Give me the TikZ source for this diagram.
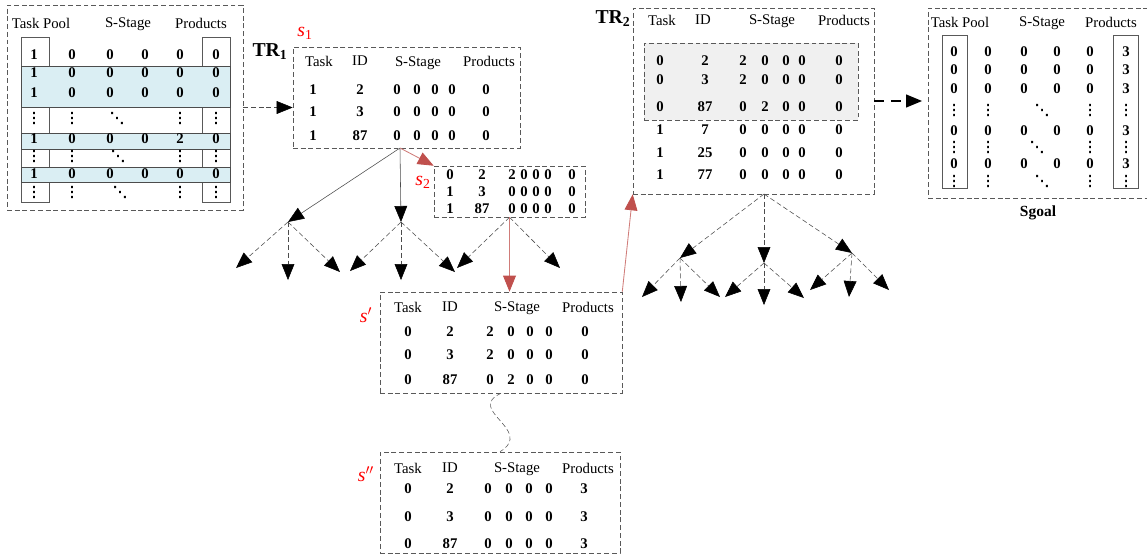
\documentclass[tikz,border=0pt]{standalone}
\usepackage{fontspec}
\setmainfont{Liberation Serif}
\newfontfamily\dotfont[FakeBold=3]{DejaVu Sans}
\usetikzlibrary{arrows.meta,fit}
\definecolor{sred}{RGB}{192,80,77}
\definecolor{bandblue}{RGB}{218,238,243}

\begin{document}
\begin{tikzpicture}[x=0.025cm, y=-0.025cm, thin,
  frame/.style={draw=gray!70!black, dash pattern=on 3.5pt off 2pt, inner sep=0pt},
  colbox/.style={draw=gray!70!black},
  band/.style={draw=gray!60!black, fill=bandblue},
  hd/.style={font=\fontsize{10.5}{12}\selectfont, inner sep=0pt, text depth=0pt},
  num/.style={font=\fontsize{10.5}{12}\selectfont\bfseries, inner sep=0pt},
  dots/.style={font=\fontsize{10.5}{12}\dotfont, inner sep=0pt},
  trname/.style={font=\fontsize{14}{16}\selectfont\bfseries, inner sep=0pt},
  sname/.style={text=red, font=\fontsize{14}{16}\selectfont, inner sep=0pt},
  tri/.style={-{Triangle[length=4mm, width=3.2mm, color=black]}},
  solidedge/.style={tri, draw=gray!60!black},
  dashedge/.style={tri, draw=gray!60!black, dash pattern=on 3.5pt off 2pt},
  bigedge/.style={tri, draw=black, line width=1.2pt, dash pattern=on 7pt off 5pt},
  rededge/.style={-{Triangle[length=4mm, width=3.2mm, color=sred]}, draw=sred!75, line width=0.6pt},
]
\useasboundingbox (0,0) rectangle (1147,555);

% ---- task pool ----
\node[frame, fit={(7,5) (243,210)}] (pool) {};
\node[hd] (pool-h1) at (41,23) {Task Pool};
\node[hd] (pool-h2) at (128,23) {S-Stage};
\node[hd] (pool-h3) at (201,23) {Products};
\draw[colbox] (21,37) rectangle (49,202);
\draw[colbox] (202,37) rectangle (230,202);
\foreach \ya/\yb in {66/107, 133/149, 167/182}
  \draw[band] (21,\ya) rectangle (230,\yb);
\foreach \yy/\pa/\pb/\pc/\pd/\pe/\pf in {55/1/0/0/0/0/0, 73/1/0/0/0/0/0, 93/1/0/0/0/0/0, 139/1/0/0/0/2/0, 174/1/0/0/0/0/0}{
  \node[num] (pool-\yy-1) at (34,\yy) {\pa};
  \node[num] (pool-\yy-2) at (72,\yy) {\pb};
  \node[num] (pool-\yy-3) at (110,\yy) {\pc};
  \node[num] (pool-\yy-4) at (145,\yy) {\pd};
  \node[num] (pool-\yy-5) at (180,\yy) {\pe};
  \node[num] (pool-\yy-6) at (216,\yy) {\pf};
}
\foreach \yy/\xd in {118/117, 156/118, 192/120}{
  \node[dots] (pool-\yy-1) at (34,\yy) {⋮};
  \node[dots] (pool-\yy-2) at (72,\yy) {⋮};
  \node[dots] (pool-\yy-d) at (\xd,\yy) {⋱};
  \node[dots] (pool-\yy-5) at (180,\yy) {⋮};
  \node[dots] (pool-\yy-6) at (216,\yy) {⋮};
}

% ---- TR1 ----
\node[frame, fit={(293,47) (520,148)}] (tr1) {};
\node[trname] (tr1name) at (270,52) {TR\textsubscript{1}};
\node[sname] (s1name) at (305,33) {\textit{s}\textsubscript{1}};
\node[hd] (tr1-h1) at (319,61) {Task};
\node[hd] (tr1-h2) at (360,61) {ID};
\node[hd] (tr1-h3) at (418,62) {S-Stage};
\node[hd] (tr1-h4) at (489,61) {Products};
\foreach \yy/\ta/\tb/\tc/\td/\te/\tf/\tg in {90/1/2/0/0/0/0/0, 112/1/3/0/0/0/0/0, 136/1/87/0/0/0/0/0}{
  \node[num] (tra-\yy-1) at (313,\yy) {\ta};
  \node[num] (tra-\yy-2) at (360,\yy) {\tb};
  \node[num] (tra-\yy-3) at (397,\yy) {\tc};
  \node[num] (tra-\yy-4) at (417,\yy) {\td};
  \node[num] (tra-\yy-5) at (435,\yy) {\te};
  \node[num] (tra-\yy-6) at (452,\yy) {\tf};
  \node[num] (tra-\yy-7) at (486,\yy) {\tg};
}

% ---- s2 ----
\node[frame, fit={(434,166) (585,217)}] (s2) {};
\node[sname] (s2name) at (423,182) {\textit{s}\textsubscript{2}};
\foreach \yy/\ta/\tb/\tc/\td/\te/\tf/\tg in {175/0/2/2/0/0/0/0, 192/1/3/0/0/0/0/0, 209/1/87/0/0/0/0/0}{
  \node[num] (sb-\yy-1) at (450,\yy) {\ta};
  \node[num] (sb-\yy-2) at (482,\yy) {\tb};
  \node[num] (sb-\yy-3) at (512,\yy) {\tc};
  \node[num] (sb-\yy-4) at (524,\yy) {\td};
  \node[num] (sb-\yy-5) at (536,\yy) {\te};
  \node[num] (sb-\yy-6) at (548,\yy) {\tf};
  \node[num] (sb-\yy-7) at (572,\yy) {\tg};
}

% ---- s' ----
\node[frame, fit={(380,292) (622,393)}] (sp) {};
\node[sname] (spname) at (366,315) {\textit{s}$'$};
\node[hd] (sp-h1) at (408,307) {Task};
\node[hd] (sp-h2) at (450,307) {ID};
\node[hd] (sp-h3) at (517,307) {S-Stage};
\node[hd] (sp-h4) at (588,307) {Products};
\foreach \yy/\ta/\tb/\tc/\td/\te/\tf/\tg in {332/0/2/2/0/0/0/0, 355/0/3/2/0/0/0/0, 380/0/87/0/2/0/0/0}{
  \node[num] (sp-\yy-1) at (408,\yy) {\ta};
  \node[num] (sp-\yy-2) at (450,\yy) {\tb};
  \node[num] (sp-\yy-3) at (490,\yy) {\tc};
  \node[num] (sp-\yy-4) at (511,\yy) {\td};
  \node[num] (sp-\yy-5) at (530,\yy) {\te};
  \node[num] (sp-\yy-6) at (549,\yy) {\tf};
  \node[num] (sp-\yy-7) at (585,\yy) {\tg};
}

% ---- s'' ----
\node[frame, fit={(380,452) (620,553)}] (spp) {};
\node[sname] (sppname) at (366,474) {\textit{s}$''$};
\node[hd] (spp-h1) at (408,468) {Task};
\node[hd] (spp-h2) at (450,468) {ID};
\node[hd] (spp-h3) at (517,468) {S-Stage};
\node[hd] (spp-h4) at (588,468) {Products};
\foreach \yy/\ta/\tb/\tc/\td/\te/\tf/\tg in {489/0/2/0/0/0/0/3, 517/0/3/0/0/0/0/3, 544/0/87/0/0/0/0/3}{
  \node[num] (spp-\yy-1) at (408,\yy) {\ta};
  \node[num] (spp-\yy-2) at (450,\yy) {\tb};
  \node[num] (spp-\yy-3) at (488,\yy) {\tc};
  \node[num] (spp-\yy-4) at (509,\yy) {\td};
  \node[num] (spp-\yy-5) at (529,\yy) {\te};
  \node[num] (spp-\yy-6) at (549,\yy) {\tf};
  \node[num] (spp-\yy-7) at (584,\yy) {\tg};
}

% ---- TR2 ----
\node[frame, fit={(633,8) (874,194)}] (tr2) {};
\node[frame, fill=gray!12, fit={(644,43) (858,120)}] (tr2done) {};
\node[trname] (tr2name) at (613,19) {TR\textsubscript{2}};
\node[hd] (tr2-h1) at (662,20) {Task};
\node[hd] (tr2-h2) at (703,20) {ID};
\node[hd] (tr2-h3) at (772,20) {S-Stage};
\node[hd] (tr2-h4) at (844,20) {Products};
\foreach \yy/\ta/\tb/\tc/\td/\te/\tf/\tg in {61/0/2/2/0/0/0/0, 80/0/3/2/0/0/0/0, 107/0/87/0/2/0/0/0, 130/1/7/0/0/0/0/0, 153/1/25/0/0/0/0/0, 175/1/77/0/0/0/0/0}{
  \node[num] (trb-\yy-1) at (660,\yy) {\ta};
  \node[num] (trb-\yy-2) at (705,\yy) {\tb};
  \node[num] (trb-\yy-3) at (743,\yy) {\tc};
  \node[num] (trb-\yy-4) at (765,\yy) {\td};
  \node[num] (trb-\yy-5) at (786,\yy) {\te};
  \node[num] (trb-\yy-6) at (802,\yy) {\tf};
  \node[num] (trb-\yy-7) at (839,\yy) {\tg};
}

% ---- goal state ----
\node[frame, fit={(928,8) (1152,198)}] (goal) {};
\node[font=\fontsize{11}{13}\selectfont\bfseries, inner sep=0pt] (goalname) at (1038,213) {Sgoal};
\node[hd] (goal-h1) at (960,22) {Task Pool};
\node[hd] (goal-h2) at (1042,22) {S-Stage};
\node[hd] (goal-h3) at (1111,22) {Products};
\draw[colbox] (942,35) rectangle (967,188);
\draw[colbox] (1113,35) rectangle (1138,188);
\foreach \yy in {52, 70, 89, 131, 164}{
  \node[num] (goal-\yy-1) at (954,\yy) {0};
  \node[num] (goal-\yy-2) at (988,\yy) {0};
  \node[num] (goal-\yy-3) at (1024,\yy) {0};
  \node[num] (goal-\yy-4) at (1057,\yy) {0};
  \node[num] (goal-\yy-5) at (1090,\yy) {0};
  \node[num] (goal-\yy-6) at (1126,\yy) {3};
}
\foreach \yy/\xd in {110/1042, 147/1037, 181/1042}{
  \node[dots] (goal-\yy-1) at (954,\yy) {⋮};
  \node[dots] (goal-\yy-2) at (988,\yy) {⋮};
  \node[dots] (goal-\yy-d) at (\xd,\yy) {⋱};
  \node[dots] (goal-\yy-5) at (1090,\yy) {⋮};
  \node[dots] (goal-\yy-6) at (1126,\yy) {⋮};
}

% ---- search tree under TR1 ----
\coordinate (r1) at (400,148);
\coordinate (a1) at (288,222);
\coordinate (a2) at (401,222);
\coordinate (a11) at (236,268);
\coordinate (a12) at (288,280);
\coordinate (a13) at (340,272);
\coordinate (a21) at (350,271);
\coordinate (a22) at (401,280);
\coordinate (a23) at (455,272);
\coordinate (b1) at (457,268);
\coordinate (b2) at (560,268);
\foreach \u in {a1,a2}
  \draw[solidedge] (r1) -- (\u);
\foreach \u/\v in {a1/a11, a1/a12, a1/a13, a2/a21, a2/a22, a2/a23, s2.south/b1, s2.south/b2}
  \draw[dashedge] (\u) -- (\v);

% ---- search tree under TR2 ----
\coordinate (r3) at (764,194);
\coordinate (c1) at (680,258);
\coordinate (c2) at (764,263);
\coordinate (c3) at (852,253);
\coordinate (c11) at (642,297);
\coordinate (c12) at (681,302);
\coordinate (c13) at (720,297);
\coordinate (c21) at (725,297);
\coordinate (c22) at (764,305);
\coordinate (c23) at (804,298);
\coordinate (c31) at (810,290);
\coordinate (c32) at (849,297);
\coordinate (c33) at (889,290);
\foreach \u/\v in {r3/c1, r3/c2, r3/c3, c1/c11, c1/c12, c1/c13, c2/c21, c2/c22, c2/c23, c3/c31, c3/c32, c3/c33}
  \draw[dashedge] (\u) -- (\v);

% ---- links between states ----
\draw[dashedge] (pool.east) -- (pool.east -| tr1.west);
\draw[bigedge] (tr2.east) -- ([xshift=-4pt]tr2.east -| goal.west);
\draw[rededge] (r1) -- (s2.north west);
\draw[rededge] (s2.south) -- (s2.south |- sp.north);
\draw[rededge] (sp.north east) -- (tr2.south west);
\draw[gray!70!black, dash pattern=on 3.5pt off 2pt] (sp.south) .. controls (465,410) and (535,430) .. (spp.north);
\end{tikzpicture}
\end{document}
